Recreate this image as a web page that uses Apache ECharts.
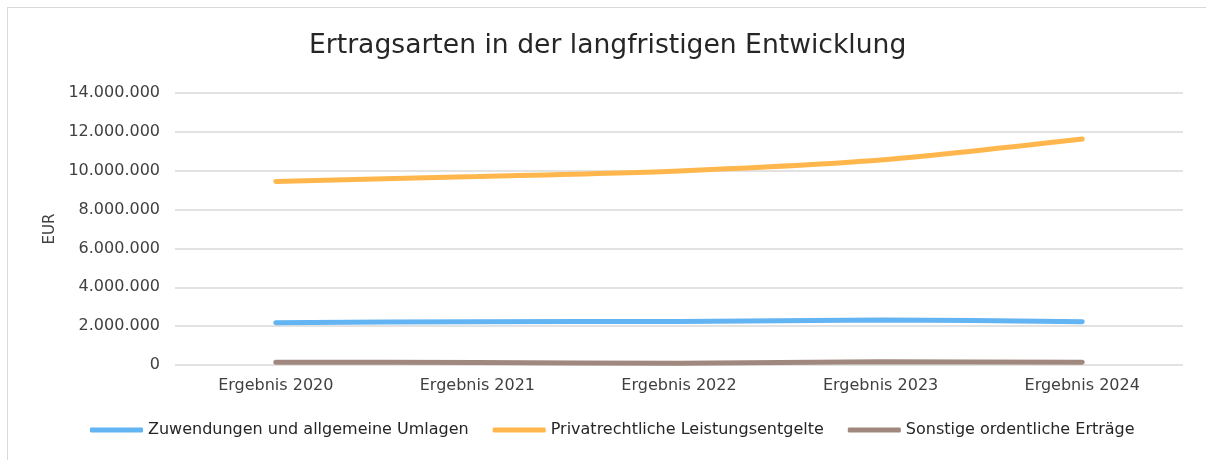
<!DOCTYPE html>
<html>
<head>
<meta charset="utf-8">
<script src="https://cdn.jsdelivr.net/npm/echarts@6/dist/echarts.min.js"></script>
<style>
  html, body { margin: 0; padding: 0; background: #fff; overflow: hidden; }
  #frame {
    position: absolute; left: 7px; top: 7px; width: 1300px; height: 500px;
    border-left: 1px solid #d9d9d9; border-top: 1px solid #d9d9d9;
  }
  #chart { position: absolute; left: 0; top: 0; width: 1206px; height: 460px; }
</style>
</head>
<body>
<div id="frame"></div>
<div id="chart"></div>
<script>
// Jahre und Werte (EUR)
const categories = ['Ergebnis 2020', 'Ergebnis 2021', 'Ergebnis 2022', 'Ergebnis 2023', 'Ergebnis 2024'];
const zuwendungen = [2180000, 2230000, 2240000, 2320000, 2230000];
const privatrechtlich = [9450000, 9700000, 9990000, 10550000, 11630000];
const sonstige = [140000, 130000, 90000, 170000, 140000];

const seriesNames = ['Zuwendungen und allgemeine Umlagen', 'Privatrechtliche Leistungsentgelte', 'Sonstige ordentliche Erträge'];
const colors = ['#63b4f3', '#ffb74d', '#a1887f'];

const font = 'DejaVu Sans, Verdana, sans-serif';

const chart = echarts.init(document.getElementById('chart'));

function lineSeries(name, data, color) {
  return {
    name: name,
    type: 'line',
    data: data,
    smooth: 0.25,
    symbol: 'none',
    lineStyle: { width: 5, color: color, cap: 'round' },
    itemStyle: { color: color }
  };
}

chart.setOption({
  animation: false,
  title: {
    text: 'Ertragsarten in der langfristigen Entwicklung',
    left: 304,
    top: 28,
    textStyle: { fontFamily: font, fontSize: 26.6, fontWeight: 'normal', color: '#262626' }
  },
  legend: {
    bottom: 17,
    left: 85,
    itemWidth: 53,
    itemHeight: 5,
    itemGap: 24,
    icon: 'roundRect',
    textStyle: { fontFamily: font, fontSize: 16, color: '#262626' },
    data: seriesNames
  },
  grid: { left: 175, right: 23, top: 93, bottom: 95 },
  xAxis: {
    type: 'category',
    data: categories,
    boundaryGap: true,
    axisLine: { show: false },
    axisTick: { show: false },
    axisLabel: { fontFamily: font, fontSize: 16, color: '#404040', margin: 13 }
  },
  yAxis: {
    type: 'value',
    min: 0,
    max: 14000000,
    interval: 2000000,
    name: 'EUR',
    nameLocation: 'middle',
    nameGap: 115,
    nameTextStyle: { fontFamily: font, fontSize: 15, color: '#404040' },
    axisLabel: {
      fontFamily: font, fontSize: 16, color: '#404040', margin: 15,
      formatter: v => v.toLocaleString('de-DE')
    },
    splitLine: { lineStyle: { color: '#d9d9d9', width: 1.5 } }
  },
  series: [
    lineSeries(seriesNames[0], zuwendungen, colors[0]),
    lineSeries(seriesNames[1], privatrechtlich, colors[1]),
    lineSeries(seriesNames[2], sonstige, colors[2])
  ]
});
</script>
</body>
</html>
